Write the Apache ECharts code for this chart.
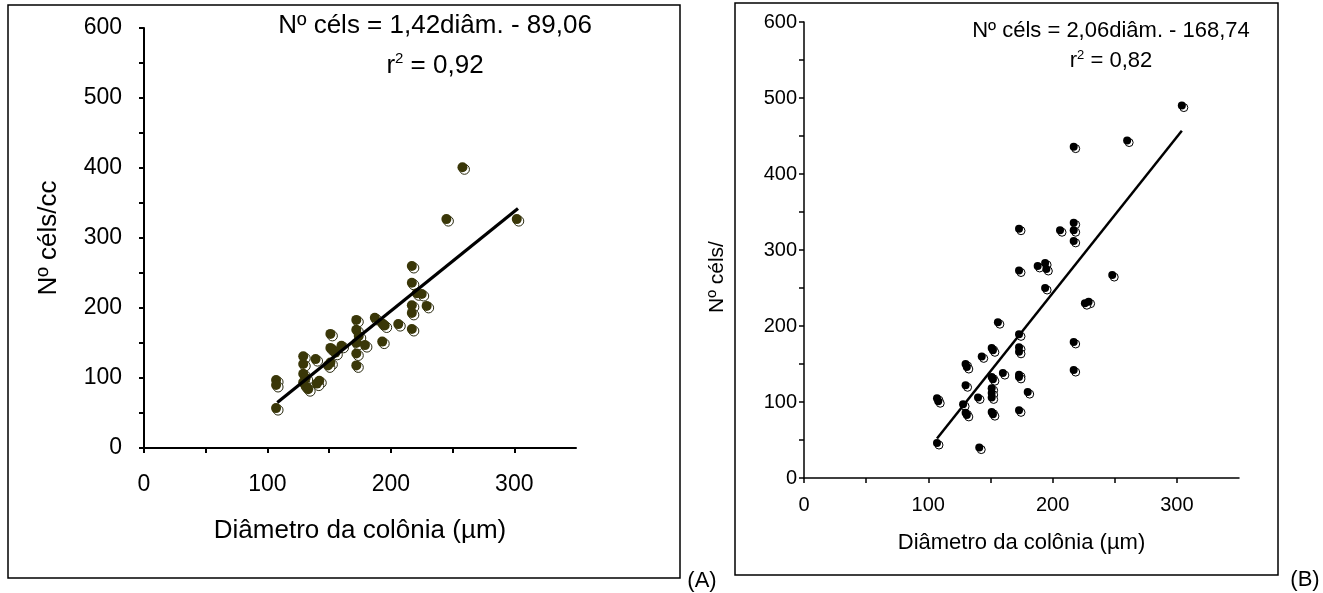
<!DOCTYPE html>
<html>
<head>
<meta charset="utf-8">
<script src="https://cdn.jsdelivr.net/npm/echarts@6/dist/echarts.min.js"></script>
<style>
html,body{margin:0;padding:0;background:#fff;}
#c{width:1323px;height:593px;}
</style>
</head>
<body>
<div id="c"></div>
<script>
// Panel A data (diameter µm, cells per colony)
const diamA = [107,107,107,129,129,129,131,129,131,133,139,142,140,151,151,153,151,149,155,160,172,172,174,172,179,172,172,187,193,195,193,206,217,217,221,217,217,217,225,229,245,258,302];
const celsA = [97,90,57,131,120,106,100,94,88,84,127,96,92,163,143,140,122,118,136,146,183,169,160,150,147,135,118,186,178,175,152,177,260,236,221,204,193,170,220,203,327,401,327];
// Panel B data
const diamB = [304,260,217,173,206,217,217,217,173,188,194,195,194,248,229,226,156,173,151,152,173,173,143,130,131,217,217,160,151,152,173,173,130,151,151,151,180,140,107,108,128,130,131,151,152,173,107,141];
const celsB = [490,444,436,328,326,336,326,312,273,279,283,275,250,267,232,230,205,189,171,168,172,166,160,150,146,179,142,138,133,130,136,133,122,118,112,106,113,106,105,101,97,86,83,87,84,89,46,40];
// Trend line end points
const trendAx = [108,303], trendAy = [65,342];
const trendBx = [107,304], trendBy = [52,457];
// Texts
const eqA = 'Nº céls = 1,42diâm. - 89,06', r2A = '0,92';
const eqB = 'Nº céls = 2,06diâm. - 168,74', r2B = '0,82';
const xTitle = 'Diâmetro da colônia (µm)';
const yTitleA = 'Nº céls/cc', yTitleB = 'Nº céls/';

const zip = (a,b)=>a.map((v,i)=>[v,b[i]]);
const FF = '"Liberation Sans", Arial, sans-serif';

function axes(idx, tickFs, lblMarginX, lblMarginY, lw){
  const common = {
    gridIndex: idx, type:'value', splitLine:{show:false},
    axisLine:{show:true,onZero:false,lineStyle:{color:'#000',width:lw}},
    axisTick:{show:true,inside:false,length:5,lineStyle:{color:'#000',width:lw}},
  };
  return {
    x: Object.assign({}, common, {min:0,max:350,interval:50,
      axisLabel:{color:'#000',fontFamily:FF,fontSize:tickFs,margin:lblMarginX,
        formatter:v=>(v%100===0?String(v):''), showMaxLabel:false}}),
    y: Object.assign({}, common, {min:0,max:600,interval:50,
      axisLabel:{color:'#000',fontFamily:FF,fontSize:tickFs,margin:lblMarginY,
        formatter:v=>(v%100===0?String(v):'')}})
  };
}
const aA = axes(0, 23, 25, 22, 2);
const aB = axes(1, 20, 17, 7, 1.5);
aA.x.name = xTitle; aA.x.nameLocation='middle'; aA.x.nameGap=70;
aA.x.nameTextStyle={color:'#000',fontFamily:FF,fontSize:26};
aA.y.name = yTitleA; aA.y.nameLocation='middle'; aA.y.nameGap=82;
aA.y.nameTextStyle={color:'#000',fontFamily:FF,fontSize:26};
aB.x.name = xTitle; aB.x.nameLocation='middle'; aB.x.nameGap=54;
aB.x.nameTextStyle={color:'#000',fontFamily:FF,fontSize:22};

const chart = echarts.init(document.getElementById('c'), null, {renderer:'canvas'});
chart.setOption({
  animation:false,
  backgroundColor:'#fff',
  grid:[
    {left:144, top:28, width:432, height:420},
    {left:804, top:22, width:435, height:456}
  ],
  xAxis:[aA.x, aB.x],
  yAxis:[aA.y, aB.y],
  graphic:[
    {type:'rect', shape:{x:8,y:5,width:672,height:573}, style:{fill:'none',stroke:'#000',lineWidth:1.5}, z:-1},
    {type:'rect', shape:{x:735,y:3,width:543,height:572}, style:{fill:'none',stroke:'#000',lineWidth:1.5}, z:-1},
    {type:'text', x:702, y:581, style:{text:'(A)', font:'22px '+FF, fill:'#000', textAlign:'center', textVerticalAlign:'middle'}},
    {type:'text', x:1305, y:580, style:{text:'(B)', font:'22px '+FF, fill:'#000', textAlign:'center', textVerticalAlign:'middle'}},
    {type:'text', x:435, y:26, style:{text:eqA, font:'26px '+FF, fill:'#000', textAlign:'center', textVerticalAlign:'middle'}},
    {type:'text', x:435, y:66, style:{text:'{a|r}{s|2}{a| = '+r2A+'}', textAlign:'center', textVerticalAlign:'middle',
      rich:{a:{fontFamily:FF,fontSize:26,color:'#000'},s:{fontFamily:FF,fontSize:15,color:'#000',verticalAlign:'top',padding:[0,0,14,0]}}}},
    {type:'text', x:1111, y:31, style:{text:eqB, font:'22px '+FF, fill:'#000', textAlign:'center', textVerticalAlign:'middle'}},
    {type:'text', x:1111, y:61, style:{text:'{a|r}{s|2}{a| = '+r2B+'}', textAlign:'center', textVerticalAlign:'middle',
      rich:{a:{fontFamily:FF,fontSize:22,color:'#000'},s:{fontFamily:FF,fontSize:13,color:'#000',verticalAlign:'top',padding:[0,0,11,0]}}}},
    {type:'text', x:717, y:277, rotation:Math.PI/2, style:{text:yTitleB, font:'21px '+FF, fill:'#000', textAlign:'center', textVerticalAlign:'middle'}}
  ],
  series:[
    {type:'scatter', xAxisIndex:0, yAxisIndex:0, data:zip(diamA,celsA), symbol:'circle', symbolSize:10, symbolOffset:[2,2],
      itemStyle:{color:'#fff',borderColor:'#2a2a10',borderWidth:1,opacity:1}, z:2, silent:true},
    {type:'scatter', xAxisIndex:0, yAxisIndex:0, data:zip(diamA,celsA), symbol:'circle', symbolSize:10,
      itemStyle:{color:'#3a3708',opacity:1}, z:3, silent:true},
    {type:'line', xAxisIndex:0, yAxisIndex:0, data:zip(trendAx,trendAy), symbol:'none', lineStyle:{color:'#000',width:3.2}, z:4},
    {type:'scatter', xAxisIndex:1, yAxisIndex:1, data:zip(diamB,celsB), symbol:'circle', symbolSize:8, symbolOffset:[2,2],
      itemStyle:{color:'#fff',borderColor:'#000',borderWidth:1,opacity:1}, z:2, silent:true},
    {type:'scatter', xAxisIndex:1, yAxisIndex:1, data:zip(diamB,celsB), symbol:'circle', symbolSize:8,
      itemStyle:{color:'#000',opacity:1}, z:3, silent:true},
    {type:'line', xAxisIndex:1, yAxisIndex:1, data:zip(trendBx,trendBy), symbol:'none', lineStyle:{color:'#000',width:2.5}, z:4}
  ]
});
</script>
</body>
</html>
